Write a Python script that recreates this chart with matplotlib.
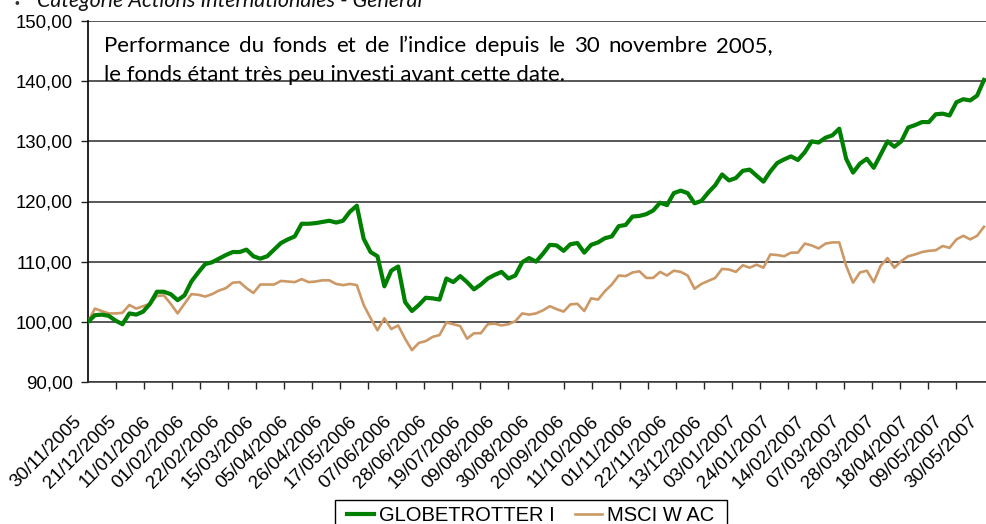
import numpy as np
import pandas as pd
import matplotlib
matplotlib.use("Agg")
import matplotlib.pyplot as plt
from matplotlib.lines import Line2D
from matplotlib.patches import Rectangle
from matplotlib.transforms import ScaledTranslation

# business days 30/11/2005 -> 30/05/2007, values read every 3rd day
bdays = pd.bdate_range("2005-11-30", "2007-05-30")
step = 3

globetrotter = [
    100.0, 101.1, 101.2, 101.0, 100.2, 99.6, 101.4, 101.2, 101.7, 103.0,
    105.0, 105.0, 104.6, 103.6, 104.4, 106.7, 108.2, 109.6, 109.9, 110.5,
    111.1, 111.6, 111.6, 112.0, 110.9, 110.5, 110.9, 112.0, 113.1, 113.7,
    114.2, 116.3, 116.3, 116.4, 116.6, 116.8, 116.5, 116.8, 118.3, 119.3,
    113.8, 111.6, 110.9, 105.9, 108.5, 109.2, 103.3, 101.8, 102.8, 104.0,
    103.9, 103.7, 107.2, 106.6, 107.6, 106.6, 105.4, 106.2, 107.2, 107.8,
    108.3, 107.2, 107.7, 109.9, 110.6, 110.0, 111.3, 112.8, 112.7, 111.8,
    112.9, 113.1, 111.5, 112.8, 113.2, 113.9, 114.2, 115.9, 116.1, 117.5,
    117.6, 117.9, 118.5, 119.8, 119.4, 121.4, 121.8, 121.4, 119.7, 120.1,
    121.5, 122.7, 124.5, 123.5, 123.9, 125.1, 125.3, 124.3, 123.3, 125.0,
    126.4, 127.0, 127.5, 126.9, 128.2, 130.0, 129.8, 130.6, 131.0, 132.1,
    127.1, 124.8, 126.3, 127.1, 125.6, 127.8, 130.0, 129.1, 130.0, 132.3,
    132.7, 133.2, 133.2, 134.5, 134.6, 134.3, 136.5, 137.0, 136.8, 137.6,
    140.2,
]

msci = [
    100.0, 102.2, 101.8, 101.4, 101.4, 101.5, 102.8, 102.2, 102.6, 103.0,
    104.3, 104.4, 103.0, 101.4, 103.0, 104.6, 104.5, 104.2, 104.6, 105.2,
    105.6, 106.5, 106.6, 105.6, 104.8, 106.2, 106.2, 106.2, 106.8, 106.7,
    106.6, 107.1, 106.6, 106.7, 106.9, 106.9, 106.3, 106.1, 106.3, 106.1,
    102.8, 100.6, 98.6, 100.6, 98.8, 99.4, 97.2, 95.3, 96.5, 96.8,
    97.5, 97.8, 99.9, 99.6, 99.3, 97.2, 98.1, 98.1, 99.6, 99.7,
    99.4, 99.6, 100.1, 101.4, 101.2, 101.4, 101.9, 102.6, 102.1, 101.7,
    102.9, 103.0, 101.8, 103.9, 103.7, 105.1, 106.2, 107.7, 107.6, 108.2,
    108.4, 107.3, 107.3, 108.3, 107.7, 108.5, 108.3, 107.7, 105.5, 106.3,
    106.8, 107.3, 108.8, 108.7, 108.3, 109.4, 109.0, 109.5, 109.0, 111.2,
    111.1, 110.9, 111.5, 111.5, 113.0, 112.7, 112.2, 113.0, 113.2, 113.2,
    109.3, 106.5, 108.2, 108.5, 106.6, 109.3, 110.6, 109.0, 110.1, 110.9,
    111.2, 111.6, 111.8, 111.9, 112.6, 112.3, 113.7, 114.3, 113.7, 114.3,
    115.8,
]

series_names = ["GLOBETROTTER I", "MSCI W AC"]
series_colors = ["#008000", "#CC9966"]
y_ticks = [90, 100, 110, 120, 130, 140, 150]

header = "Catégorie Actions Internationales - Général"
note_line1 = "Performance du fonds et de l’indice depuis le 30 novembre 2005,"
note_line2 = "le fonds étant très peu investi avant cette date."

plt.rcParams["font.family"] = ["Liberation Sans", "DejaVu Sans"]

W, H = 987, 524
fig = plt.figure(figsize=(W / 100, H / 100), dpi=100)
ax = fig.add_axes([88 / W, 1 - 382 / H, (W - 88) / W, (382 - 21) / H])

x_idx = np.arange(len(bdays))[::step]
ax.plot(x_idx, msci, color=series_colors[1], lw=1.9, zorder=3)
ax.plot(x_idx, globetrotter, color=series_colors[0], lw=3.0, zorder=4)

n_last = len(bdays) - 1
ax.set_xlim(0, n_last * (W - 88) / (984 - 88))
ax.set_ylim(90, 150)

# y axis
ax.set_yticks(y_ticks)
ax.set_yticklabels([f"{v:.2f}".replace(".", ",") for v in y_ticks], fontsize=13.4)
ax.tick_params(axis="y", direction="out", length=5, width=1, color="#222222", pad=6)
ax.yaxis.grid(True, color="#2a2a2a", lw=1.1)
ax.set_axisbelow(True)

# x axis: label every 3 weeks, tick marks at 32 even steps
lbl_pos = np.arange(0, len(bdays), 15)
ax.set_xticks(lbl_pos)
ax.set_xticklabels([bdays[i].strftime("%d/%m/%Y") for i in lbl_pos],
                   rotation=45, ha="right", va="top", fontsize=13.6)
ax.tick_params(axis="x", which="major", length=0, pad=22)
ax.set_xticks(np.linspace(0, n_last, 33), minor=True)
ax.tick_params(axis="x", which="minor", direction="out", length=5, width=1, color="#222222")
shift = ScaledTranslation(-3 / 100, 0, fig.dpi_scale_trans)
for t in ax.get_xticklabels():
    t.set_transform(t.get_transform() + shift)

for s in ["top", "right"]:
    ax.spines[s].set_visible(False)
ax.spines["left"].set_color("#111111")
ax.spines["left"].set_linewidth(1.3)
ax.spines["bottom"].set_color("#333333")
ax.spines["bottom"].set_linewidth(1.1)

# header, partly cut at the top
fig.text(15 / W, 1 - 8 / H, "•", fontsize=10, color="#333333", va="baseline")
fig.text(37 / W, 1 - 7 / H, header, family=["Lato", "DejaVu Sans"], style="italic",
         fontsize=15.5, color="#111111", va="baseline")

# note, first line justified to full width
fig.canvas.draw()
renderer = fig.canvas.get_renderer()
note_font = dict(family=["Lato", "DejaVu Sans"], fontsize=16, color="black", va="baseline")
words = note_line1.split()
objs = [fig.text(0, 1 - 52 / H, w, **note_font) for w in words]
widths = [o.get_window_extent(renderer).width for o in objs]
x0, x1 = 104, 773
gap = (x1 - x0 - sum(widths)) / (len(words) - 1)
xpos = x0
for o, wdt in zip(objs, widths):
    o.set_x(xpos / W)
    xpos += wdt + gap
fig.text(x0 / W, 1 - 81 / H, note_line2, **note_font)

# legend, cut by the bottom edge; frame drawn apart for wider side padding
side = 6
handles = [Line2D([], [], color=series_colors[0], lw=3.0),
           Line2D([], [], color=series_colors[1], lw=1.9)]
leg = fig.legend(handles, series_names, loc="upper left",
                 bbox_to_anchor=((335 + side) / W, 1 - 500 / H),
                 ncol=2, fontsize=14.5, frameon=False, borderaxespad=0, borderpad=0.3,
                 handlelength=1.35, handletextpad=0.25, columnspacing=1.0)
fig.canvas.draw()
bb = leg.get_window_extent(fig.canvas.get_renderer())
fig.patches.append(Rectangle(((bb.x0 - side) / W, bb.y0 / H), (bb.width + 2 * side) / W,
                             bb.height / H, transform=fig.transFigure, facecolor="white",
                             edgecolor="black", lw=1.0, zorder=0))

fig.savefig("out.png", dpi=100)
